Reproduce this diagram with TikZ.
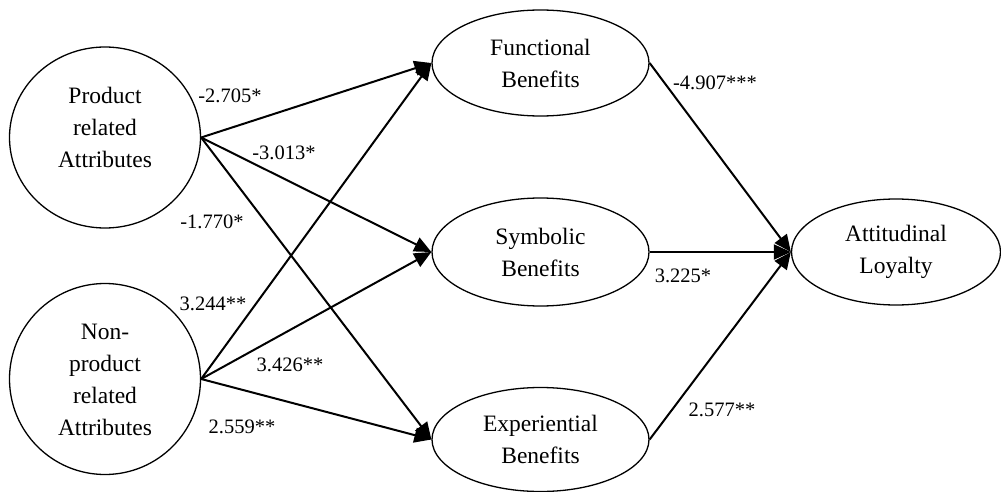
\documentclass[tikz,border=0pt]{standalone}
\usepackage{fontspec}
\setmainfont{Liberation Serif}
\usetikzlibrary{shapes.geometric,arrows.meta}
\begin{document}
\begin{tikzpicture}[x=1pt,y=-1pt,
  construct/.style={draw,line width=1.3pt,ellipse,inner sep=0pt},
  ctext/.style={align=center,font=\fontsize{23.5}{32}\selectfont},
  path/.style={line width=2pt,-{Triangle[length=17pt,width=15pt]}},
  coef/.style={font=\fontsize{20.5}{22}\selectfont,inner sep=0pt}]
\useasboundingbox (0,0) rectangle (1001,492);
% latent constructs
\node[construct,minimum width=191pt,minimum height=181pt] (P) at (105,137.5) {};
\node[ctext] (Pt) at (105,127) {Product\\related\\Attributes};
\node[construct,minimum width=191pt,minimum height=191pt] (N) at (105,379) {};
\node[ctext] (Nt) at (105,380) {Non-\\product\\related\\Attributes};
\node[construct,minimum width=217pt,minimum height=106pt,ctext] (F) at (540.5,63) {Functional\\Benefits};
\node[construct,minimum width=217pt,minimum height=108pt,ctext] (S) at (540.5,252) {Symbolic\\Benefits};
\node[construct,minimum width=217pt,minimum height=104pt,ctext] (E) at (540.5,439.5) {Experiential\\Benefits};
\node[construct,minimum width=209pt,minimum height=106pt,ctext] (A) at (896,252) {Attitudinal\\Loyalty};
% paths
\draw[path] (P.east) -- (F.west);
\draw[path] (P.east) -- (S.west);
\draw[path] (P.east) -- (E.west);
\draw[path] (N.east) -- (F.west);
\draw[path] (N.east) -- (S.west);
\draw[path] (N.east) -- (E.west);
\draw[path] (F.east) -- (A.west);
\draw[path] (S.east) -- (A.west);
\draw[path] (E.east) -- (A.west);
% coefficients
\node[coef] (c1) at (230,96) {-2.705*};
\node[coef] (c2) at (284,153) {-3.013*};
\node[coef] (c3) at (212,222) {-1.770*};
\node[coef] (c4) at (213,304) {3.244**};
\node[coef] (c5) at (290,365) {3.426**};
\node[coef] (c6) at (242,427) {2.559**};
\node[coef] (c7) at (715,83) {-4.907***};
\node[coef] (c8) at (683,276) {3.225*};
\node[coef] (c9) at (722,410) {2.577**};
\end{tikzpicture}
\end{document}
